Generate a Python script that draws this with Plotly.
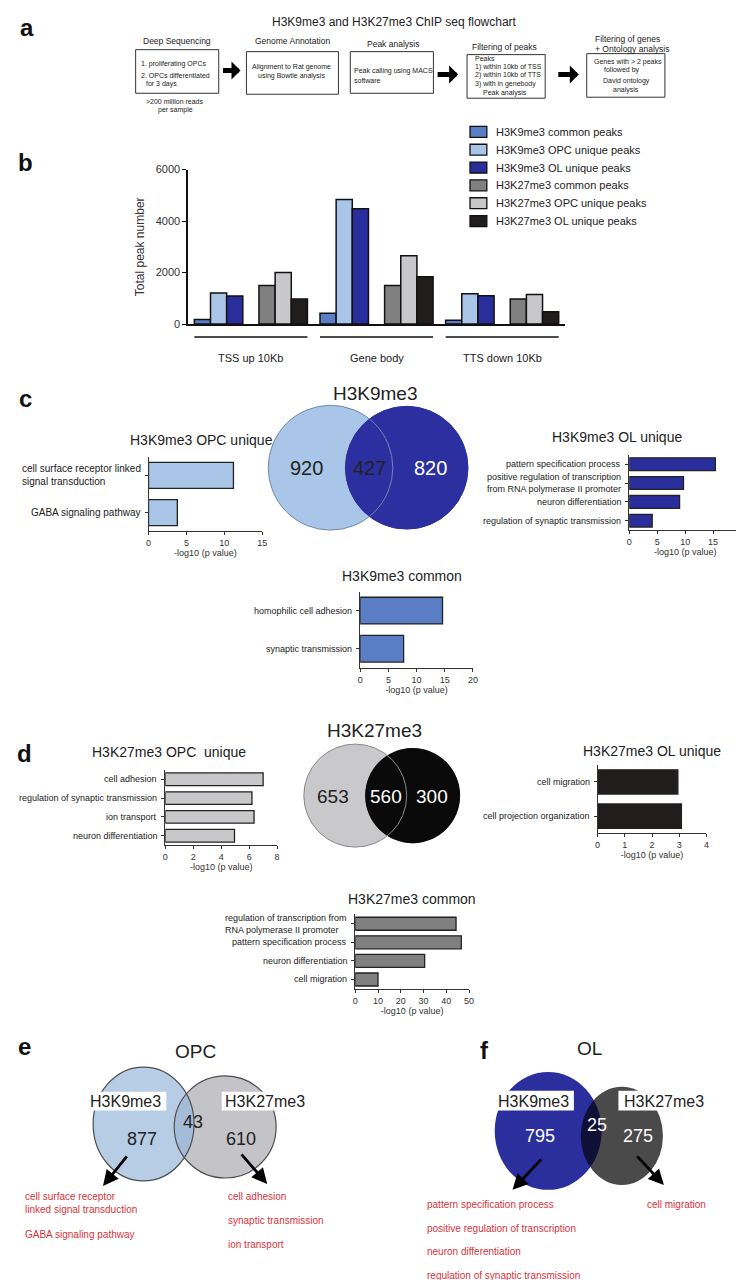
import plotly.graph_objects as go

W, H = 744, 1280
def X(px): return px / W
def Y(py): return 1 - py / H

FONT = "Liberation Sans, Arial, sans-serif"
INK = "#222222"
AX = "#333333"
RED = "#d8323a"

# ---------------- data ----------------
regions = ["TSS up 10Kb", "Gene body", "TTS down 10Kb"]
series_names = ["H3K9me3 common peaks", "H3K9me3 OPC unique peaks", "H3K9me3 OL unique peaks",
                "H3K27me3 common peaks", "H3K27me3 OPC unique peaks", "H3K27me3 OL unique peaks"]
k9_common = [180, 420, 150]
k9_opc = [1210, 4840, 1180]
k9_ol = [1090, 4480, 1100]
k27_common = [1500, 1500, 970]
k27_opc = [2000, 2650, 1150]
k27_ol = [970, 1840, 480]
series_colors = ["#5a7ec6", "#a9c6e8", "#2a2e9c", "#808080", "#c8c8cb", "#221d1d"]

c_opc_terms = ["cell surface receptor linked<br>signal transduction", "GABA signaling pathway"]
c_opc_vals = [11.2, 3.8]
c_ol_terms = ["pattern specification process",
              "positive regulation of transcription<br>from RNA polymerase II promoter",
              "neuron differentiation", "regulation of synaptic transmission"]
c_ol_vals = [15.4, 9.7, 9.0, 4.1]
c_common_terms = ["homophilic cell adhesion", "synaptic transmission"]
c_common_vals = [14.6, 7.7]
d_opc_terms = ["cell adhesion", "regulation of synaptic transmission", "ion transport", "neuron differentiation"]
d_opc_vals = [7.0, 6.2, 6.35, 4.95]
d_ol_terms = ["cell migration", "cell projection organization"]
d_ol_vals = [2.95, 3.08]
d_common_terms = ["regulation of transcription from<br>RNA polymerase II promoter",
                  "pattern specification process", "neuron differentiation", "cell migration"]
d_common_vals = [44.3, 46.6, 30.5, 10.0]

venn_c = [920, 427, 820]
venn_d = [653, 560, 300]
venn_e = [877, 43, 610]
venn_f = [795, 25, 275]

e_k9_terms = ["cell surface receptor<br>linked signal transduction", "GABA signaling pathway"]
e_k27_terms = ["cell adhesion", "synaptic transmission", "ion transport"]
f_k9_terms = ["pattern specification process", "positive regulation of transcription",
              "neuron differentiation", "regulation of synaptic transmission"]
f_k27_terms = ["cell migration"]

# ---------------- helpers ----------------
shapes, annotations = [], []

def txt(text, x, y, size=9, xanchor="center", color=INK, bold=False, align="center", yanchor="middle"):
    annotations.append(dict(text=f"<b>{text}</b>" if bold else text, x=X(x), y=Y(y),
                            xref="paper", yref="paper", xanchor=xanchor, yanchor=yanchor,
                            showarrow=False, align=align,
                            font=dict(family=FONT, size=size, color=color)))

def rect(x0, y0, x1, y1, line="#333", width=1, fill="rgba(0,0,0,0)"):
    shapes.append(dict(type="rect", xref="paper", yref="paper", x0=X(x0), x1=X(x1),
                       y0=Y(y1), y1=Y(y0), line=dict(color=line, width=width), fillcolor=fill))

def ell(x0, y0, x1, y1, fill="rgba(0,0,0,0)", line="rgba(0,0,0,0)", width=0):
    shapes.append(dict(type="circle", xref="paper", yref="paper", x0=X(x0), x1=X(x1),
                       y0=Y(y1), y1=Y(y0), fillcolor=fill,
                       line=dict(color=line, width=width)))

def arrow(x_head, y_head, x_tail, y_tail, width=2.5, size=1.0, head=2):
    annotations.append(dict(x=X(x_head), y=Y(y_head), xref="paper", yref="paper",
                            ax=x_tail - x_head, ay=y_tail - y_head, axref="pixel", ayref="pixel",
                            showarrow=True, arrowhead=head, arrowsize=size, arrowwidth=width,
                            arrowcolor="#000", text=""))

fig = go.Figure()

# ---------------- panel a: flowchart ----------------
txt("a", 16, 14, size=24, bold=True, color="#111")
txt("H3K9me3 and H3K27me3 ChIP seq flowchart", 388, 8, size=12)
fs, hs = 7, 8.5
txt("Deep Sequencing", 168, 27, size=hs)
rect(126, 36, 210, 80)
txt("1. proliferating OPCs", 129, 50, size=fs, xanchor="left")
txt("2. OPCs differentiated", 129, 62, size=fs, xanchor="left")
txt("for 3 days", 134, 71, size=fs, xanchor="left")
txt(">200 million reads", 166, 88, size=fs)
txt("per sample", 166, 97, size=fs)
arrow(232, 57, 213, 57, width=5, size=0.6, head=1)
txt("Genome Annotation", 285, 27, size=hs)
rect(238, 38, 331, 81)
txt("Alignment to Rat genome", 284, 54, size=fs)
txt("using Bowtie analysis", 284, 63, size=fs)
txt("Peak analysis", 386, 30, size=hs)
rect(343, 38, 427, 80)
txt("Peak calling using MACS", 345, 58, size=fs, xanchor="left")
txt("software", 345, 67, size=fs, xanchor="left")
arrow(452, 61, 430, 61, width=5, size=0.6, head=1)
txt("Filtering of peaks", 499, 33, size=hs)
rect(461, 41, 540, 85)
txt("Peaks", 467, 45, size=fs, xanchor="left")
txt("1) within 10kb of TSS", 467, 54, size=fs, xanchor="left")
txt("2) within 10kb of TTS", 467, 62, size=fs, xanchor="left")
txt("3) with in genebody", 467, 71, size=fs, xanchor="left")
txt("Peak analysis", 475, 80, size=fs, xanchor="left")
arrow(574, 61, 552, 61, width=5, size=0.6, head=1)
txt("Filtering of genes", 588, 25, size=hs, xanchor="left")
txt("+ Ontology analysis", 588, 35, size=hs, xanchor="left")
rect(582, 40, 661, 84)
txt("Genes with > 2 peaks", 624, 48, size=fs)
txt("followed by", 618, 57, size=fs)
txt("David ontology", 622, 68, size=fs)
txt("analysis", 622, 77, size=fs)

# ---------------- panel b: grouped bars ----------------
txt("b", 15, 150, size=24, bold=True, color="#111")
all_series = [k9_common, k9_opc, k9_ol, None, k27_common, k27_opc, k27_ol]
ci = 0
for s in all_series:
    if s is None:
        fig.add_trace(go.Bar(x=regions, y=[0] * len(regions), marker=dict(color="rgba(0,0,0,0)", line=dict(width=0)),
                             showlegend=False, hoverinfo="skip"))
        continue
    fig.add_trace(go.Bar(x=regions, y=s, name=series_names[ci],
                         marker=dict(color=series_colors[ci], line=dict(color="#111", width=1.5)),
                         showlegend=False))
    ci += 1

for i, r in enumerate(regions):
    shapes.append(dict(type="line", xref="x", yref="paper", x0=i - 0.45, x1=i + 0.45,
                       y0=Y(326), y1=Y(326), line=dict(color="#111", width=1.6)))
    annotations.append(dict(text=r, x=i, xref="x", y=Y(339), yref="paper", showarrow=False,
                            font=dict(family=FONT, size=11, color=INK)))

# manual legend
leg_y = [119, 137, 155, 173, 191, 209]
for ly, nm, col in zip(leg_y, series_names, series_colors):
    rect(464, ly - 5.5, 481, ly + 5.5, line="#111", width=1.3, fill=col)
    txt(nm, 488, ly, size=11, xanchor="left")

layout_axes = dict(
    xaxis=dict(domain=[X(179), X(560)], range=[-0.5, 2.5], showline=True, linecolor="#111",
               linewidth=1.5, showticklabels=False, ticks="", showgrid=False, zeroline=False, anchor="y"),
    yaxis=dict(domain=[Y(313), Y(157)], range=[0, 6000], tickvals=[0, 2000, 4000, 6000],
               showline=True, linecolor="#111", linewidth=1.5, ticks="outside", ticklen=4,
               tickcolor="#111", tickfont=dict(family=FONT, size=11, color=AX), showgrid=False,
               zeroline=False, anchor="x",
               title=dict(text="Total peak number", font=dict(family=FONT, size=12, color=AX), standoff=8)),
)

# ---------------- horizontal bar panels ----------------
hpanels = [
    dict(title="H3K9me3 OPC unique", terms=c_opc_terms, vals=c_opc_vals, color=series_colors[1],
         xmax=15, dtick=5, dx=(139, 254), dy=(447, 522), txy=(193, 430), lsize=10,
         align=["left", "right"], bw=0.7),
    dict(title="H3K9me3 OL unique", terms=c_ol_terms, vals=c_ol_vals, color=series_colors[2],
         xmax=20, dtick=5, dx=(625, 738), dy=(445, 521), txy=(613, 427), lsize=9,
         align=["right"] * 4, bw=0.68),
    dict(title="H3K9me3 common", terms=c_common_terms, vals=c_common_vals, color=series_colors[0],
         xmax=20, dtick=5, dx=(353, 467), dy=(583, 660), txy=(395, 567), lsize=9,
         align=["right"] * 2, bw=0.7),
    dict(title="H3K27me3 OPC  unique", terms=d_opc_terms, vals=d_opc_vals, color=series_colors[4],
         xmax=8, dtick=2, dx=(156, 269), dy=(763, 839), txy=(160, 745), lsize=9,
         align=["right"] * 4, bw=0.67),
    dict(title="H3K27me3 OL unique", terms=d_ol_terms, vals=d_ol_vals, color=series_colors[5],
         xmax=4, dtick=1, dx=(593, 703), dy=(758, 827), txy=(648, 744), lsize=9,
         align=["right"] * 2, bw=0.71),
    dict(title="H3K27me3 common", terms=d_common_terms, vals=d_common_vals, color=series_colors[3],
         xmax=50, dtick=10, dx=(348, 463), dy=(909, 984), txy=(405, 893), lsize=9,
         align=["left", "right", "right", "right"], bw=0.7),
]

for k, p in enumerate(hpanels):
    n = k + 2
    xa, ya = f"x{n}", f"y{n}"
    fig.add_trace(go.Bar(x=p["vals"], y=p["terms"], orientation="h", width=p["bw"],
                         marker=dict(color=p["color"], line=dict(color="#222", width=1.3)),
                         xaxis=xa, yaxis=ya, showlegend=False))
    layout_axes[f"xaxis{n}"] = dict(domain=[X(p["dx"][0]), X(p["dx"][1])], range=[0, p["xmax"]],
                                    dtick=p["dtick"], anchor=ya, showline=True, linecolor="#333",
                                    linewidth=1, ticks="outside", ticklen=3, tickcolor="#333",
                                    tickfont=dict(family=FONT, size=9, color=AX), showgrid=False,
                                    zeroline=False,
                                    title=dict(text="-log10 (p value)", standoff=2,
                                               font=dict(family=FONT, size=9, color=AX)))
    nt = len(p["terms"])
    layout_axes[f"yaxis{n}"] = dict(domain=[Y(p["dy"][1]), Y(p["dy"][0])], anchor=xa, type="category",
                                    categoryorder="array", categoryarray=p["terms"],
                                    range=[nt - 0.5, -0.5], showline=True, linecolor="#333", linewidth=1,
                                    ticks="outside", ticklen=3, tickcolor="#333",
                                    showticklabels=False, showgrid=False, zeroline=False)
    for j, t in enumerate(p["terms"]):
        annotations.append(dict(text=t, x=0, xref=f"{xa} domain", y=j, yref=ya, xanchor="right",
                                xshift=-6, showarrow=False, align=p["align"][j],
                                font=dict(family=FONT, size=p["lsize"], color=INK)))
    txt(p["title"], p["txy"][0], p["txy"][1], size=14)

# ---------------- panel c venn ----------------
txt("c", 15, 388, size=24, bold=True, color="#111")
txt("H3K9me3", 368, 383, size=19)
ell(260, 395, 386, 521, fill="#a9c6e8")
ell(338, 396, 462, 520, fill="#2b2f9f")
ell(338, 396, 462, 520, fill="rgba(43,47,159,0.5)")
ell(260, 395, 386, 521, line="#7088ad", width=1)
ell(338, 396, 462, 520, line="#2b2f9f", width=1)
txt(str(venn_c[0]), 299, 458, size=20)
txt(str(venn_c[1]), 362, 458, size=20)
txt(str(venn_c[2]), 424, 458, size=20, color="#ffffff")

# ---------------- panel d venn ----------------
txt("d", 14, 746, size=24, bold=True, color="#111")
txt("H3K27me3", 367, 723, size=19)
ell(296, 737, 400, 841, fill="#c9c9cc")
ell(358, 741, 454, 837, fill="#0a0a0a")
ell(358, 741, 454, 837, fill="rgba(10,10,10,0.5)")
ell(296, 737, 400, 841, line="#8a8a8a", width=1)
txt(str(venn_d[0]), 326, 790, size=19)
txt(str(venn_d[1]), 379, 790, size=19, color="#ffffff")
txt(str(venn_d[2]), 426, 790, size=19, color="#ffffff")

# ---------------- panel e venn ----------------
txt("e", 14, 1042, size=24, bold=True, color="#111")
txt("OPC", 187, 1047, size=19)
ell(165, 1072, 268, 1175, fill="#f5ddc6")
ell(83, 1063, 185, 1178, fill="#b7cde6")
ell(165, 1072, 268, 1175, fill="rgba(147,171,202,0.5)")
ell(83, 1063, 185, 1178, line="#4d4d4d", width=1.2)
ell(165, 1072, 268, 1175, line="#4d4d4d", width=1.2)
rect(76, 1088, 157, 1107, line="rgba(0,0,0,0)", width=0, fill="#ffffff")
rect(213, 1088, 302, 1107, line="rgba(0,0,0,0)", width=0, fill="#ffffff")
txt("H3K9me3", 116, 1098, size=16)
txt("H3K27me3", 257, 1098, size=16)
txt(str(venn_e[0]), 132, 1136, size=18)
txt(str(venn_e[1]), 184, 1118, size=18)
txt(str(venn_e[2]), 233, 1136, size=18)
arrow(93, 1183, 118, 1152, width=2.8, size=1.1)
arrow(259, 1181, 232, 1150, width=2.8, size=1.1)
txt(e_k9_terms[0], 12, 1200, size=10, xanchor="left", color=RED, align="left")
txt(e_k9_terms[1], 12, 1232, size=10, xanchor="left", color=RED)
for j, t in enumerate(e_k27_terms):
    txt(t, 217, 1194 + 24 * j, size=10, xanchor="left", color=RED)

# ---------------- panel f venn ----------------
txt("f", 479, 1046, size=24, bold=True, color="#111")
txt("OL", 585, 1044, size=19)
ell(576, 1083, 659, 1182, fill="#d3d3d3")
ell(489, 1068, 597, 1187, fill="#2b2f9e")
ell(576, 1083, 659, 1182, fill="rgba(0,0,0,0.65)")
rect(487, 1087, 569, 1107, line="rgba(0,0,0,0)", width=0, fill="#ffffff")
rect(614, 1087, 705, 1107, line="rgba(0,0,0,0)", width=0, fill="#ffffff")
txt("H3K9me3", 528, 1098, size=16)
txt("H3K27me3", 660, 1098, size=16)
txt(str(venn_f[0]), 535, 1133, size=18, color="#ffffff")
txt(str(venn_f[1]), 592, 1122, size=18, color="#ffffff")
txt(str(venn_f[2]), 634, 1133, size=18, color="#ffffff")
arrow(507, 1187, 537, 1155, width=2.8, size=1.1)
arrow(660, 1182, 632, 1152, width=2.8, size=1.1)
for j, t in enumerate(f_k9_terms):
    txt(t, 419, 1202 + 23.7 * j, size=10, xanchor="left", color=RED)
for j, t in enumerate(f_k27_terms):
    txt(t, 641, 1202 + 24 * j, size=10, xanchor="left", color=RED)

fig.update_layout(width=W, height=H, margin=dict(l=0, r=0, t=0, b=0),
                  paper_bgcolor="white", plot_bgcolor="white", showlegend=False,
                  barmode="group", bargap=0.1, bargroupgap=0,
                  shapes=shapes, annotations=annotations, font=dict(family=FONT), **layout_axes)
fig.write_html("out.html")
